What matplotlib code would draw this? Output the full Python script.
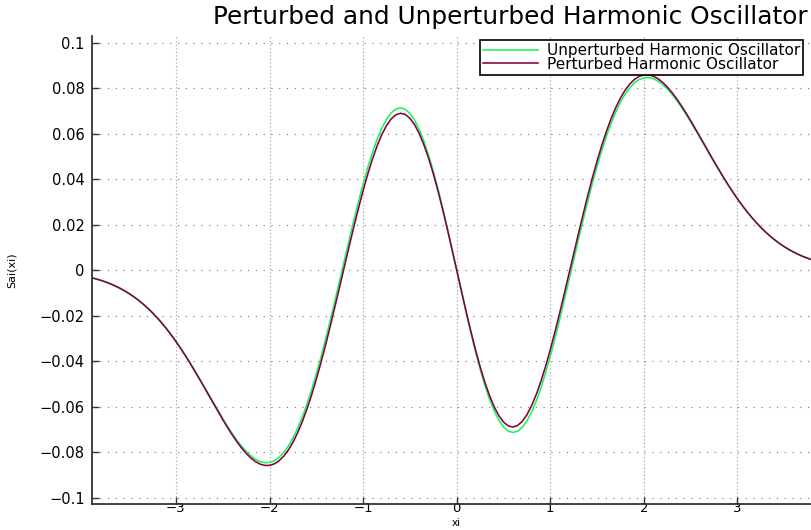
import numpy as np
import matplotlib
matplotlib.use("Agg")
import matplotlib.pyplot as plt

# Sample positions along xi (step 0.05)
xi = np.linspace(-3.9, 3.9, 157)

# Wavefunction values Sai(xi) at each sample
unperturbed = [
    -0.00333, -0.00388, -0.00450, -0.00520, -0.00600, -0.00690, -0.00790, -0.00903, -0.01028, -0.01167,
    -0.01319, -0.01487, -0.01671, -0.01871, -0.02087, -0.02321, -0.02571, -0.02838, -0.03121, -0.03421,
    -0.03734, -0.04060, -0.04399, -0.04745, -0.05100, -0.05457, -0.05815, -0.06169, -0.06516, -0.06850,
    -0.07167, -0.07462, -0.07730, -0.07964, -0.08160, -0.08311, -0.08414, -0.08461, -0.08450, -0.08376,
    -0.08234, -0.08023, -0.07740, -0.07385, -0.06957, -0.06457, -0.05889, -0.05255, -0.04561, -0.03813,
    -0.03018, -0.02186, -0.01325, -0.00447, 0.00438, 0.01316, 0.02175, 0.03003, 0.03787, 0.04514,
    0.05172, 0.05751, 0.06239, 0.06628, 0.06911, 0.07081, 0.07135, 0.07070, 0.06888, 0.06589,
    0.06179, 0.05663, 0.05050, 0.04350, 0.03574, 0.02737, 0.01851, 0.00934,
    0.0,
    -0.00934, -0.01851, -0.02737, -0.03574, -0.04350, -0.05050, -0.05663, -0.06179,
    -0.06589, -0.06888, -0.07070, -0.07135, -0.07081, -0.06911, -0.06628, -0.06239, -0.05751, -0.05172,
    -0.04514, -0.03787, -0.03003, -0.02175, -0.01316, -0.00438, 0.00447, 0.01325, 0.02186, 0.03018,
    0.03813, 0.04561, 0.05255, 0.05889, 0.06457, 0.06957, 0.07385, 0.07740, 0.08023, 0.08234,
    0.08376, 0.08450, 0.08461, 0.08414, 0.08311, 0.08160, 0.07964, 0.07730, 0.07462, 0.07167,
    0.06850, 0.06516, 0.06169, 0.05815, 0.05457, 0.05100, 0.04745, 0.04399, 0.04060, 0.03734,
    0.03421, 0.03121, 0.02838, 0.02571, 0.02321, 0.02087, 0.01871, 0.01671, 0.01487, 0.01319,
    0.01167, 0.01028, 0.00903, 0.00790, 0.00690, 0.00600, 0.00520, 0.00450, 0.00388, 0.00333,
]
perturbed = [
    -0.00333, -0.00389, -0.00451, -0.00522, -0.00602, -0.00692, -0.00793, -0.00906, -0.01031, -0.01171,
    -0.01324, -0.01493, -0.01678, -0.01879, -0.02096, -0.02331, -0.02583, -0.02852, -0.03137, -0.03439,
    -0.03755, -0.04084, -0.04425, -0.04775, -0.05133, -0.05495, -0.05857, -0.06216, -0.06568, -0.06909,
    -0.07232, -0.07533, -0.07808, -0.08050, -0.08254, -0.08414, -0.08525, -0.08582, -0.08580, -0.08516,
    -0.08384, -0.08184, -0.07911, -0.07567, -0.07149, -0.06660, -0.06102, -0.05479, -0.04795, -0.04056,
    -0.03271, -0.02446, -0.01593, -0.00721, 0.00157, 0.01031, 0.01887, 0.02713, 0.03496, 0.04224,
    0.04884, 0.05466, 0.05960, 0.06356, 0.06648, 0.06828, 0.06894, 0.06844, 0.06676, 0.06394,
    0.06002, 0.05505, 0.04912, 0.04234, 0.03480, 0.02666, 0.01804, 0.00910,
    0.0,
    -0.00910, -0.01804, -0.02666, -0.03480, -0.04234, -0.04912, -0.05505, -0.06002,
    -0.06394, -0.06676, -0.06844, -0.06894, -0.06828, -0.06648, -0.06356, -0.05960, -0.05466, -0.04884,
    -0.04224, -0.03496, -0.02713, -0.01887, -0.01031, -0.00157, 0.00721, 0.01593, 0.02446, 0.03271,
    0.04056, 0.04795, 0.05479, 0.06102, 0.06660, 0.07149, 0.07567, 0.07911, 0.08184, 0.08384,
    0.08516, 0.08580, 0.08582, 0.08525, 0.08414, 0.08254, 0.08050, 0.07808, 0.07533, 0.07232,
    0.06909, 0.06568, 0.06216, 0.05857, 0.05495, 0.05133, 0.04775, 0.04425, 0.04084, 0.03755,
    0.03439, 0.03137, 0.02852, 0.02583, 0.02331, 0.02096, 0.01879, 0.01678, 0.01493, 0.01324,
    0.01171, 0.01031, 0.00906, 0.00793, 0.00692, 0.00602, 0.00522, 0.00451, 0.00389, 0.00333,
]

series_labels = ["Unperturbed Harmonic Oscillator", "Perturbed Harmonic Oscillator"]
x_ticks = [-3, -2, -1, 0, 1, 2, 3]
x_tick_labels = ["\u22123", "\u22122", "\u22121", "0", "1", "2", "3"]
y_ticks = [-0.1, -0.08, -0.06, -0.04, -0.02, 0.0, 0.02, 0.04, 0.06, 0.08, 0.1]
y_tick_labels = ["\u22120.1", "\u22120.08", "\u22120.06", "\u22120.04", "\u22120.02", "0",
                 "0.02", "0.04", "0.06", "0.08", "0.1"]

plt.rcParams["font.family"] = ["DejaVu Sans"]

W, H = 811, 530
fig = plt.figure(figsize=(W / 100, H / 100), dpi=100)
ax = fig.add_axes([91.7 / W, 1 - 504.3 / H, 730 / W, (504.3 - 36) / H])

ax.plot(xi, unperturbed, color="#19f55a", lw=1.15, label=series_labels[0])
ax.plot(xi, perturbed, color="#85003f", lw=1.15, label=series_labels[1])

ax.set_xlim(-3.9, 3.9)
ax.set_ylim(-0.1029, 0.1029)
ax.set_xticks(x_ticks)
ax.set_xticklabels(x_tick_labels)
ax.set_yticks(y_ticks)
ax.set_yticklabels(y_tick_labels)
ax.tick_params(direction="in", length=5, width=1.0, labelsize=10.5, color="#333333")
ax.tick_params(axis="x", pad=-1.5, labelsize=9.5)
ax.tick_params(axis="y", pad=5)

for s in ("top", "right"):
    ax.spines[s].set_visible(False)
for s in ("left", "bottom"):
    ax.spines[s].set_linewidth(1.3)
    ax.spines[s].set_color("#333333")

ax.grid(True, axis="y", color="#777777", lw=0.8, linestyle=(0, (1, 6)))
ax.grid(True, axis="x", color="#999999", lw=0.8, linestyle=(0, (1, 2.2)))
ax.set_axisbelow(True)

ax.set_xlabel("xi", fontsize=7.5)
ax.xaxis.set_label_coords(0.5, -0.0288)
ax.set_ylabel("Sai(xi)", fontsize=8)
ax.yaxis.set_label_coords(-0.102, 0.5)

fig.text(510 / W, 1 - 17 / H, "Perturbed and Unperturbed Harmonic Oscillator",
         ha="center", va="center", fontsize=17.8)

leg = ax.legend(loc="upper right", bbox_to_anchor=(803 / W, 1 - 40 / H),
                bbox_transform=fig.transFigure, borderaxespad=0, fontsize=11,
                frameon=True, fancybox=False, edgecolor="black", framealpha=1,
                handlelength=3.6, handletextpad=0.55, labelspacing=-0.1,
                borderpad=0.2)
leg.get_frame().set_linewidth(1.2)

fig.savefig("out.png", dpi=100)
